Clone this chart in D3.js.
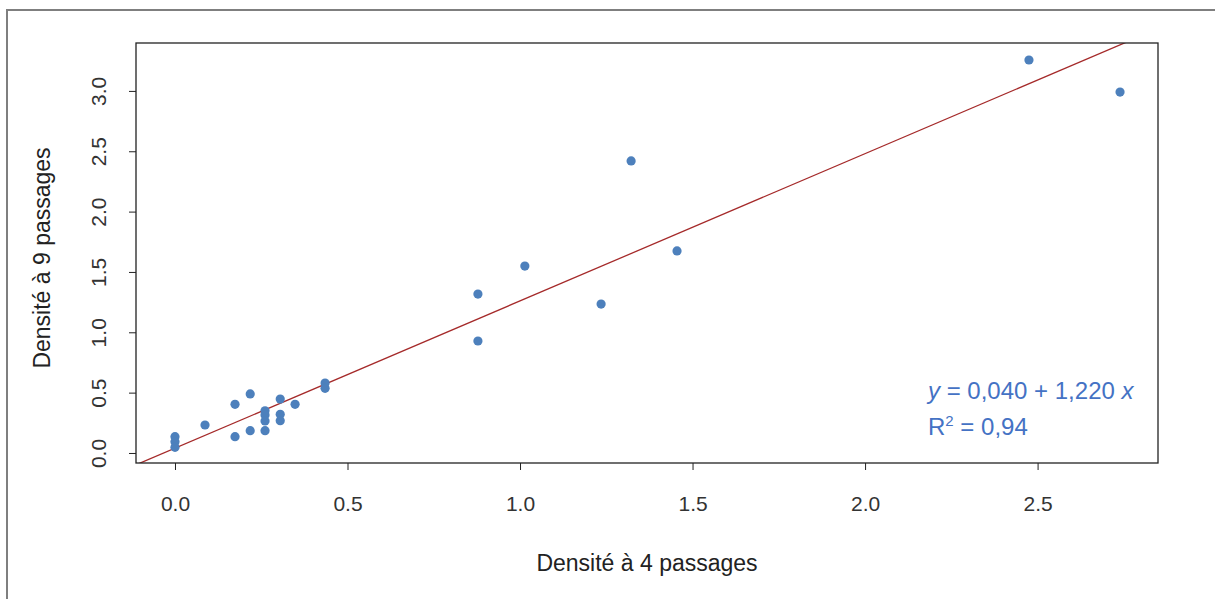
<!DOCTYPE html>
<html>
<head>
<meta charset="utf-8">
<script src="https://cdn.jsdelivr.net/npm/d3@7"></script>
<style>
  body { margin: 0; background: #fff; }
  svg text { font-family: "Liberation Sans", Arial, sans-serif; }
</style>
</head>
<body>
<svg id="chart" width="1215" height="599"></svg>
<script>
// points: density after 4 passes vs after 9 passes
var dens4 = [0, 0, 0, 0.087, 0.174, 0.174, 0.218, 0.218, 0.261, 0.261, 0.261, 0.261,
             0.305, 0.305, 0.305, 0.348, 0.435, 0.435, 0.878, 0.878, 1.014, 1.235,
             1.322, 1.455, 2.475, 2.739];
var dens9 = [0.135, 0.094, 0.047, 0.232, 0.403, 0.135, 0.489, 0.185, 0.35, 0.315, 0.265, 0.185,
             0.447, 0.32, 0.268, 0.403, 0.58, 0.536, 1.317, 0.928, 1.549, 1.234,
             2.42, 1.674, 3.256, 2.99];
var xTicks = [0, 0.5, 1, 1.5, 2, 2.5];
var yTicks = [0, 0.5, 1, 1.5, 2, 2.5, 3];
var intercept = 0.040, slope = 1.220;

var svg = d3.select("#chart");

// outer frame (only top and left edges show)
svg.append("path")
   .attr("d", "M7,599 V10 H1215")
   .attr("fill", "none")
   .attr("stroke", "#7f7f7f")
   .attr("stroke-width", 2)

const pLeft = 136, pRight = 1158, pTop = 43, pBottom = 463;

const x = d3.scaleLinear().domain([-0.113, 2.849]).range([pLeft, pRight]);
const y = d3.scaleLinear().domain([-0.083, 3.397]).range([pBottom, pTop]);

svg.append("clipPath").attr("id", "plotclip")
   .append("rect").attr("x", pLeft).attr("y", pTop)
   .attr("width", pRight - pLeft).attr("height", pBottom - pTop);

// axes
const xAxis = svg.append("g")
   .attr("transform", "translate(0," + pBottom + ")")
   .call(d3.axisBottom(x).tickValues(xTicks).tickFormat(d3.format(".1f")).tickSize(7).tickPadding(26))
xAxis.select(".domain").remove();
xAxis.selectAll("line").attr("stroke", "#222");
xAxis.selectAll("text").attr("font-size", 21).attr("fill", "#333")
   .attr("font-family", "Liberation Sans, Arial, sans-serif");

const yAxis = svg.append("g")
   .attr("transform", "translate(" + pLeft + ",0)")
   .call(d3.axisLeft(y).tickValues(yTicks).tickFormat(d3.format(".1f")).tickSize(7).tickPadding(0))
yAxis.select(".domain").remove();
yAxis.selectAll("line").attr("stroke", "#222");
yAxis.selectAll("text")
   .attr("font-size", 21).attr("fill", "#333")
   .attr("font-family", "Liberation Sans, Arial, sans-serif")
   .attr("text-anchor", "middle")
   .attr("x", null).attr("dy", null)
   .attr("transform", "translate(-38,0) rotate(-90)")
   .attr("dominant-baseline", "central");

// regression line
svg.append("line")
   .attr("clip-path", "url(#plotclip)")
   .attr("x1", x(x.domain()[0])).attr("y1", y(intercept + slope * x.domain()[0]))
   .attr("x2", x(x.domain()[1])).attr("y2", y(intercept + slope * x.domain()[1]))
   .attr("stroke", "#a52a2a")
   .attr("stroke-width", 1.3)

// points
svg.append("g")
   .selectAll("circle")
   .data(dens4.map((d, i) => [d, dens9[i]]))
   .enter().append("circle")
      .attr("cx", d => x(d[0]))
      .attr("cy", d => y(d[1]))
      .attr("r", 4.6)
      .attr("fill", "#4d80bc")

// plot box
svg.append("rect")
   .attr("x", pLeft).attr("y", pTop)
   .attr("width", pRight - pLeft).attr("height", pBottom - pTop)
   .attr("fill", "none").attr("stroke", "#222").attr("stroke-width", 1.3)

// axis titles
svg.append("text")
   .attr("x", 647).attr("y", 571)
   .attr("text-anchor", "middle")
   .attr("font-size", 23).attr("fill", "#222")
   .text("Densité à 4 passages")

svg.append("text")
   .attr("transform", "translate(50,258) rotate(-90)")
   .attr("text-anchor", "middle")
   .attr("font-size", 23).attr("fill", "#222")
   .text("Densité à 9 passages")

// equation annotation
const eq = svg.append("text")
   .attr("x", 928).attr("y", 399)
   .attr("font-size", 24).attr("fill", "#4472c4")
eq.append("tspan").attr("font-style", "italic").text("y");
eq.append("tspan").text(" = 0,040 + 1,220 ");
eq.append("tspan").attr("font-style", "italic").text("x");

const r2 = svg.append("text")
   .attr("x", 928).attr("y", 435)
   .attr("font-size", 24).attr("fill", "#4472c4")
r2.append("tspan").text("R");
r2.append("tspan").attr("font-size", 15).attr("dy", -9).text("2");
r2.append("tspan").attr("dy", 9).text(" = 0,94");
</script>
</body>
</html>
